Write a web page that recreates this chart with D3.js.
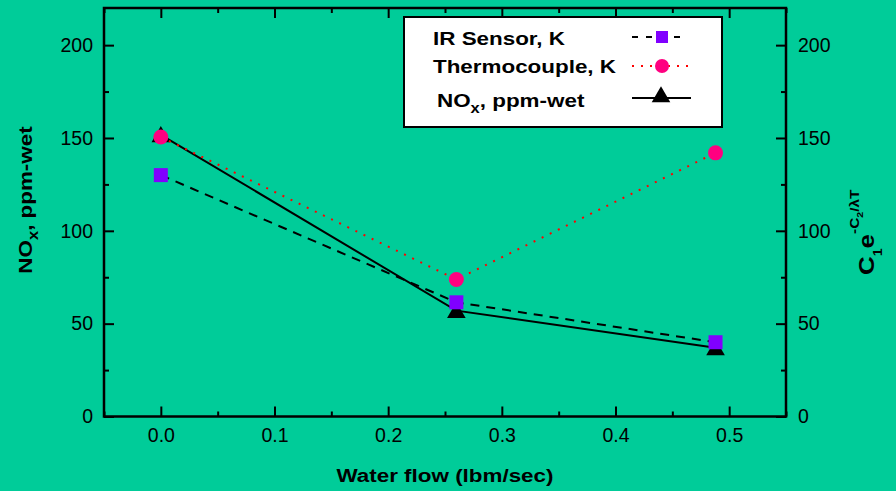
<!DOCTYPE html>
<html>
<head>
<meta charset="utf-8">
<script src="https://cdn.jsdelivr.net/npm/d3@7"></script>
<style>
  body { margin: 0; background: #00cc99; }
  svg { display: block; }
  .tick text { font-family: "Liberation Sans", Arial, sans-serif; font-size: 19.5px; fill: #000; }
  .tick line { stroke: #000; stroke-width: 2px; }
  .title { font-family: "Liberation Sans", Arial, sans-serif; font-weight: bold; fill: #000; }
</style>
</head>
<body>
<div id="chart"></div>
<script>
  // water flow (lbm/sec) for the three runs
  var waterFlow = [0, 0.26, 0.488]

  // series values
  var irSensor = [130, 61.5, 40]
  var thermocouple = [150.5, 73.8, 142]
  var noxWet = [151.7, 57, 37]

  var xTicks = [0, 0.1, 0.2, 0.3, 0.4, 0.5]
  var xMinor = [-0.05, 0.05, 0.15, 0.25, 0.35, 0.45, 0.55]
  var yTicks = [0, 50, 100, 150, 200]
  var yMinor = [25, 75, 125, 175]

  var width = 896, height = 491
  // plot box (window.top is taken, so own names)
  var plotL = 104, plotR = 786, plotT = 8, plotB = 416.5

  // the bold labels in the original are a bit wide
  var stretch = 1.18

  var svg = d3.select("#chart").append("svg")
    .attr("width", width)
    .attr("height", height)

  svg.append("rect")
    .attr("width", width).attr("height", height)
    .attr("fill", "#00cc99")

  var x = d3.scaleLinear().domain([-0.05, 0.55]).range([plotL, plotR])
  var y = d3.scaleLinear().domain([0, 220]).range([plotB, plotT])

  // axes, ticks pointing inwards
  function axisG(cls, tr, ax) {
    var g = svg.append("g").attr("class", cls).attr("transform", tr).call(ax)
    g.select(".domain").remove()
    return g
  }

  axisG("x axis", "translate(0," + plotB + ")",
    d3.axisBottom(x).tickValues(xTicks).tickSize(-10).tickPadding(12).tickFormat(d3.format(".1f")))
  axisG("x minor", "translate(0," + plotB + ")",
    d3.axisBottom(x).tickValues(xMinor).tickSize(-5).tickFormat(""))
  axisG("x top", "translate(0," + plotT + ")",
    d3.axisTop(x).tickValues(xTicks).tickSize(-10).tickFormat(""))
  axisG("x topminor", "translate(0," + plotT + ")",
    d3.axisTop(x).tickValues(xMinor).tickSize(-5).tickFormat(""))

  axisG("y axis", "translate(" + plotL + ",0)",
    d3.axisLeft(y).tickValues(yTicks).tickSize(-10).tickPadding(11))
  axisG("y minor", "translate(" + plotL + ",0)",
    d3.axisLeft(y).tickValues(yMinor).tickSize(-5).tickFormat(""))
  axisG("y right", "translate(" + plotR + ",0)",
    d3.axisRight(y).tickValues(yTicks).tickSize(-10).tickPadding(12))
  axisG("y rightminor", "translate(" + plotR + ",0)",
    d3.axisRight(y).tickValues(yMinor).tickSize(-5).tickFormat(""))

  // frame
  svg.append("rect")
    .attr("x", plotL).attr("y", plotT)
    .attr("width", plotR - plotL).attr("height", plotB - plotT)
    .attr("fill", "none").attr("stroke", "#000").attr("stroke-width", 2.5)

  function pts(vals) {
    return waterFlow.map(function(d, i) { return [d, vals[i]] })
  }

  var line = d3.line()
    .x(function(d) { return x(d[0]) })
    .y(function(d) { return y(d[1]) })

  var tri = d3.symbol().type(d3.symbolTriangle).size(150)

  // NOx first, it sits under the other markers
  svg.append("path").datum(pts(noxWet))
    .attr("d", line).attr("fill", "none")
    .attr("stroke", "#000").attr("stroke-width", 2)
  svg.selectAll(".tri").data(pts(noxWet)).enter().append("path")
    .attr("class", "tri")
    .attr("d", tri)
    .attr("transform", function(d) { return "translate(" + x(d[0]) + "," + (y(d[1]) + 2) + ")" })
    .attr("fill", "#000")

  svg.append("path").datum(pts(irSensor))
    .attr("d", line).attr("fill", "none")
    .attr("stroke", "#000").attr("stroke-width", 2)
    .attr("stroke-dasharray", "9,7")
  svg.selectAll(".sq").data(pts(irSensor)).enter().append("rect")
    .attr("class", "sq")
    .attr("x", function(d) { return x(d[0]) - 7 })
    .attr("y", function(d) { return y(d[1]) - 7 })
    .attr("width", 14).attr("height", 14)
    .attr("fill", "#8000ff")

  svg.append("path").datum(pts(thermocouple))
    .attr("d", line).attr("fill", "none")
    .attr("stroke", "#ff0000").attr("stroke-width", 2)
    .attr("stroke-dasharray", "2,7")
  svg.selectAll(".dot").data(pts(thermocouple)).enter().append("circle")
    .attr("class", "dot")
    .attr("cx", function(d) { return x(d[0]) })
    .attr("cy", function(d) { return y(d[1]) })
    .attr("r", 7.5)
    .attr("fill", "#ff0080")

  // bold text, stretched sideways like the original
  function boldText(tr, size, anchor) {
    return svg.append("g")
      .attr("transform", tr + " scale(" + stretch + ",1)")
      .append("text").attr("class", "title")
      .attr("text-anchor", anchor || "start")
      .style("font-size", size + "px")
  }

  function noxLabel(t) {
    t.append("tspan").text("NO")
    t.append("tspan").attr("dy", 6).style("font-size", "14px").text("x")
    t.append("tspan").attr("dy", -6).text(", ppm-wet")
  }

  // axis titles
  boldText("translate(445,482)", 19, "middle").text("Water flow (lbm/sec)")

  noxLabel(boldText("translate(32,200) rotate(-90)", 19, "middle"))

  var rt = boldText("translate(874,275) rotate(-90)", 22)
  rt.append("tspan").text("C")
  rt.append("tspan").attr("dy", 8).style("font-size", "12px").text("1")
  rt.append("tspan").attr("dy", -8).text("e")
  rt.append("tspan").attr("dy", -15).style("font-size", "13px").text("-C")
  rt.append("tspan").attr("dy", 4).style("font-size", "9px").text("2")
  rt.append("tspan").attr("dy", -4).style("font-size", "13px").text("/λT")

  // legend
  svg.append("rect")
    .attr("x", 404).attr("y", 17).attr("width", 318).attr("height", 110)
    .attr("fill", "#fff").attr("stroke", "#000").attr("stroke-width", 2)

  var legNames = ["IR Sensor, K", "Thermocouple, K"]
  var legY = [37, 66, 98]

  boldText("translate(433," + (legY[0] + 8) + ")", 19).text(legNames[0])
  boldText("translate(433," + (legY[1] + 7) + ")", 19).text(legNames[1])
  noxLabel(boldText("translate(437," + (legY[2] + 9) + ")", 19))

  svg.append("line")
    .attr("x1", 632).attr("x2", 688).attr("y1", legY[0]).attr("y2", legY[0])
    .attr("stroke", "#000").attr("stroke-width", 2).attr("stroke-dasharray", "6,8")
  svg.append("rect")
    .attr("x", 656).attr("y", legY[0] - 6).attr("width", 12).attr("height", 12)
    .attr("fill", "#8000ff")

  svg.append("line")
    .attr("x1", 632).attr("x2", 688).attr("y1", legY[1]).attr("y2", legY[1])
    .attr("stroke", "#ff0000").attr("stroke-width", 2).attr("stroke-dasharray", "2,7")
  svg.append("circle")
    .attr("cx", 662).attr("cy", legY[1]).attr("r", 7)
    .attr("fill", "#ff0080")

  svg.append("line")
    .attr("x1", 632).attr("x2", 691).attr("y1", legY[2]).attr("y2", legY[2])
    .attr("stroke", "#000").attr("stroke-width", 2)
  svg.append("path")
    .attr("d", tri)
    .attr("transform", "translate(661," + (legY[2] - 1) + ")")
    .attr("fill", "#000")
</script>
</body>
</html>
